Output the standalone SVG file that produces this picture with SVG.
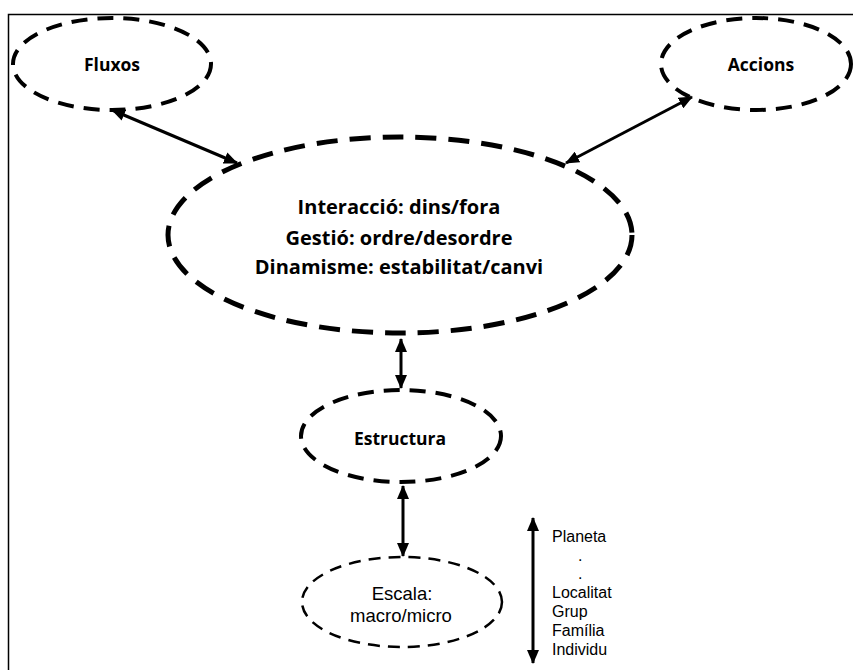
<svg xmlns="http://www.w3.org/2000/svg" width="853" height="670" viewBox="0 0 853 670">
  <style>
    .frame { fill: none; stroke: #000; stroke-width: 1.5; }
    .node { fill: none; stroke: #000; }
    .big { stroke-width: 5; stroke-dasharray: 21 12; }
    .mid { stroke-width: 4; stroke-dasharray: 16 10; }
    .thin { stroke-width: 2.5; stroke-dasharray: 12 8; }
    .lbl { font-family: "Open Sans", "Liberation Sans", sans-serif; fill: #000; text-anchor: middle; }
    .bold { font-weight: bold; font-size: 17.5px; }
    .core { font-weight: bold; font-size: 20px; }
    .reg { font-family: "Liberation Sans", Arial, sans-serif; font-size: 18.5px; }
    .list { font-family: "Liberation Sans", Arial, sans-serif; font-size: 16px; fill: #000; }
    .link { stroke: #000; stroke-width: 3; fill: none; marker-start: url(#head); marker-end: url(#head); }
  </style>
  <defs>
    <marker id="head" viewBox="0 0 14 12" refX="13" refY="6" markerWidth="14" markerHeight="12" markerUnits="userSpaceOnUse" orient="auto-start-reverse">
      <path d="M0,0 L14,6 L0,12 Z" fill="#000"/>
    </marker>
  </defs>

  <rect class="frame" x="8.5" y="14.5" width="900" height="700"/>

  <g id="connectors">
    <line class="link" x1="112" y1="110" x2="237" y2="163"/>
    <line class="link" x1="692" y1="97" x2="566" y2="163"/>
    <line class="link" x1="401" y1="339" x2="401" y2="388"/>
    <line class="link" x1="403" y1="486" x2="403" y2="556"/>
    <line class="link" x1="533" y1="518" x2="533" y2="663"/>
  </g>

  <g id="fluxos">
    <ellipse class="node mid" cx="112" cy="64" rx="99" ry="46"/>
    <text class="lbl bold" x="112" y="71">Fluxos</text>
  </g>

  <g id="accions">
    <ellipse class="node mid" cx="756" cy="64" rx="95" ry="46"/>
    <text class="lbl bold" x="761" y="71">Accions</text>
  </g>

  <g id="centre">
    <ellipse class="node big" cx="400" cy="235" rx="232" ry="98"/>
    <text class="lbl core" x="399" y="214">Interacció: dins/fora</text>
    <text class="lbl core" x="399" y="245">Gestió: ordre/desordre</text>
    <text class="lbl core" x="399" y="274">Dinamisme: estabilitat/canvi</text>
  </g>

  <g id="estructura">
    <ellipse class="node mid" cx="401" cy="436" rx="100" ry="46"/>
    <text class="lbl bold" x="400" y="445">Estructura</text>
  </g>

  <g id="escala">
    <ellipse class="node thin" cx="402" cy="602" rx="100" ry="45"/>
    <text class="lbl reg" x="402" y="600">Escala:</text>
    <text class="lbl reg" x="401" y="622">macro/micro</text>
  </g>

  <g id="nivells">
    <text class="list" x="552" y="542">Planeta</text>
    <text class="list" x="578" y="560.5">.</text>
    <text class="list" x="578" y="579">.</text>
    <text class="list" x="552" y="598">Localitat</text>
    <text class="list" x="552" y="617">Grup</text>
    <text class="list" x="552" y="636">Família</text>
    <text class="list" x="552" y="655">Individu</text>
  </g>
</svg>
